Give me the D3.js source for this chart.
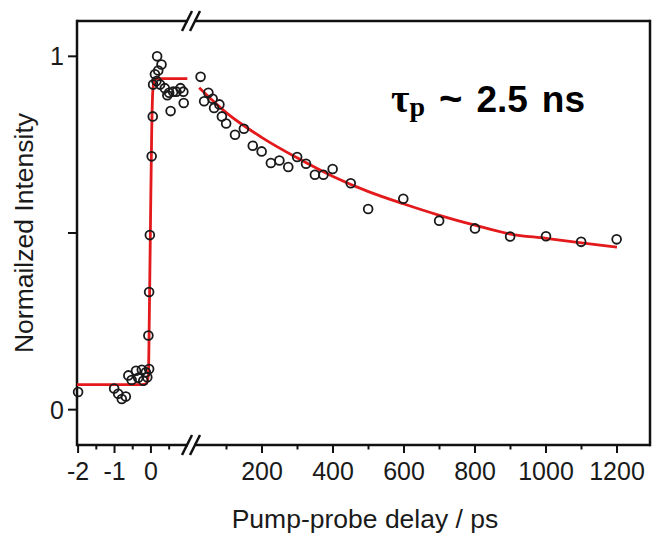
<!DOCTYPE html>
<html>
<head>
<meta charset="utf-8">
<script src="https://cdn.jsdelivr.net/npm/d3@7"></script>
<style>
  body { margin: 0; background: #fff; }
  text { font-family: "Liberation Sans", Arial, sans-serif; fill: #1a1a1a; }
</style>
</head>
<body>
<div id="chart"></div>
<script>
// early delays (ps), left part of the broken axis
const earlyDelay = [-2.0, -1.01, -0.9, -0.8, -0.69, -0.62, -0.53, -0.41, -0.35, -0.25, -0.21, -0.14, -0.1, -0.05,
  -0.07, -0.05, -0.03, 0.02, 0.05, 0.06, 0.11, 0.15, 0.17, 0.2, 0.29, 0.25, 0.38, 0.45, 0.5, 0.54, 0.61, 0.7, 0.81, 0.89, 0.9];
const earlySignal = [0.05, 0.06, 0.045, 0.03, 0.037, 0.097, 0.084, 0.11, 0.09, 0.113, 0.082, 0.106, 0.092, 0.115,
  0.21, 0.333, 0.494, 0.717, 0.83, 0.92, 0.949, 0.93, 1.0, 0.96, 0.977, 0.92, 0.91, 0.89, 0.897, 0.845, 0.9, 0.9, 0.91, 0.9, 0.868];

// late delays (ps), right part
const lateDelay = [27, 37, 49, 61, 65, 80, 87, 99, 124, 149, 174, 199, 225, 249, 274, 299, 324, 349, 373, 399,
  450, 499, 598, 699, 800, 899, 1000, 1099, 1199];
const lateSignal = [0.942, 0.873, 0.897, 0.88, 0.854, 0.864, 0.83, 0.81, 0.778, 0.795, 0.747, 0.731, 0.698, 0.705,
  0.687, 0.715, 0.696, 0.665, 0.665, 0.681, 0.641, 0.568, 0.597, 0.535, 0.513, 0.49, 0.491, 0.475, 0.482];

// fitted curves (red)
const fitEarlyDelay = [-2.03, -0.25, -0.12, -0.07, -0.04, -0.01, 0.02, 0.05, 0.09, 0.14, 1.0];
const fitEarlySignal = [0.071, 0.071, 0.074, 0.1, 0.3, 0.55, 0.78, 0.9, 0.93, 0.937, 0.937];
const fitLateDelay = [23, 100, 200, 300, 400, 500, 600, 700, 800, 900, 1000, 1100, 1200];
const fitLateSignal = [0.911, 0.84, 0.77, 0.712, 0.66, 0.617, 0.582, 0.55, 0.522, 0.497, 0.485, 0.472, 0.46];

// ticks
const earlyTicks = [-2, -1, 0];
const earlyMinor = [-1.5, -0.5, 0.5];
const lateTicks = [200, 400, 600, 800, 1000, 1200];
const lateMinor = [100, 300, 500, 700, 900, 1100];
const yTicks = [0, 1];
const yMinor = [0.5];

const width = 652, height = 536;
const margin = { top: 21, right: 2, bottom: 91, left: 77 };
const breakX = 191;

const svg = d3.select('#chart').append('svg')
  .attr('width', width)
  .attr('height', height);

const xEarly = d3.scaleLinear().domain([-2.03, 1.1]).range([margin.left, breakX]);
const xLate = d3.scaleLinear().domain([0, 1293]).range([breakX, width - margin.right]);
const y = d3.scaleLinear().domain([-0.1, 1.1]).range([height - margin.bottom, margin.top]);

const bottom = height - margin.bottom;
const right = width - margin.right;

// frame with axis break
const frame = svg.append('g').attr('stroke', '#111').attr('stroke-width', 2.5).attr('fill', 'none');
frame.append('line').attr('x1', margin.left).attr('x2', margin.left).attr('y1', margin.top - 1.2).attr('y2', bottom + 1.2);
frame.append('line').attr('x1', right).attr('x2', right).attr('y1', margin.top - 1.2).attr('y2', bottom + 1.2);
[margin.top, bottom].forEach(yy => {
  frame.append('line').attr('x1', margin.left).attr('x2', 188).attr('y1', yy).attr('y2', yy);
  frame.append('line').attr('x1', 194).attr('x2', right).attr('y1', yy).attr('y2', yy);
  [187, 195].forEach(cx => {
    frame.append('line')
      .attr('x1', cx - 5).attr('y1', yy + 10)
      .attr('x2', cx + 5).attr('y2', yy - 10);
  });
});

// x ticks
const ticks = svg.append('g').attr('stroke', '#111').attr('stroke-width', 2);
earlyTicks.forEach(t => ticks.append('line').attr('x1', xEarly(t)).attr('x2', xEarly(t)).attr('y1', bottom).attr('y2', bottom + 8));
earlyMinor.forEach(t => ticks.append('line').attr('x1', xEarly(t)).attr('x2', xEarly(t)).attr('y1', bottom).attr('y2', bottom + 4.5));
lateTicks.forEach(t => ticks.append('line').attr('x1', xLate(t)).attr('x2', xLate(t)).attr('y1', bottom).attr('y2', bottom + 8));
lateMinor.forEach(t => ticks.append('line').attr('x1', xLate(t)).attr('x2', xLate(t)).attr('y1', bottom).attr('y2', bottom + 4.5));
yTicks.concat(yMinor).forEach(v => ticks.append('line').attr('x1', margin.left - 9).attr('x2', margin.left).attr('y1', y(v)).attr('y2', y(v)));

const tickFont = 25;
svg.append('g').selectAll('text').data(earlyTicks).join('text')
  .attr('x', d => xEarly(d)).attr('y', bottom + 35)
  .attr('text-anchor', 'middle').attr('font-size', tickFont)
  .text(d => d);
svg.append('g').selectAll('text').data(lateTicks).join('text')
  .attr('x', d => xLate(d)).attr('y', bottom + 35)
  .attr('text-anchor', 'middle').attr('font-size', tickFont)
  .text(d => d);
svg.append('g').selectAll('text').data(yTicks).join('text')
  .attr('x', margin.left - 13).attr('y', d => y(d))
  .attr('dy', '0.36em')
  .attr('text-anchor', 'end').attr('font-size', tickFont)
  .text(d => d);

// axis titles
svg.append('text')
  .attr('x', 365).attr('y', 528)
  .attr('text-anchor', 'middle').attr('font-size', 26.5)
  .text('Pump-probe delay / ps');
svg.append('text')
  .attr('transform', `translate(33, 233) rotate(-90)`)
  .attr('text-anchor', 'middle').attr('font-size', 26.5)
  .text('Normailzed Intensity');

// fits
const red = '#e3191c';
const lineEarly = d3.line().x(d => xEarly(d[0])).y(d => y(d[1])).curve(d3.curveMonotoneX);
const lineLate = d3.line().x(d => xLate(d[0])).y(d => y(d[1])).curve(d3.curveMonotoneX);
svg.append('path')
  .datum(fitEarlyDelay.map((t, i) => [t, fitEarlySignal[i]]))
  .attr('d', lineEarly)
  .attr('fill', 'none').attr('stroke', red).attr('stroke-width', 2.8);
svg.append('path')
  .datum(fitLateDelay.map((t, i) => [t, fitLateSignal[i]]))
  .attr('d', lineLate)
  .attr('fill', 'none').attr('stroke', red).attr('stroke-width', 2.8);

// data points
const pts = svg.append('g').attr('fill', 'none').attr('stroke', '#1a1a1a').attr('stroke-width', 1.8);
pts.selectAll('.early').data(earlyDelay.map((t, i) => [t, earlySignal[i]])).join('circle')
  .attr('class', 'early')
  .attr('cx', d => xEarly(d[0])).attr('cy', d => y(d[1])).attr('r', 4.4);
pts.selectAll('.late').data(lateDelay.map((t, i) => [t, lateSignal[i]])).join('circle')
  .attr('class', 'late')
  .attr('cx', d => xLate(d[0])).attr('cy', d => y(d[1])).attr('r', 4.4);

// annotation
const ann = svg.append('text')
  .attr('x', 391).attr('y', 112)
  .attr('font-size', 37).attr('font-weight', 'bold')
  .style('fill', '#000');
ann.append('tspan').attr('font-family', '"Liberation Serif", serif').attr('font-size', 40).text('τ');
ann.append('tspan').attr('font-family', '"Liberation Serif", serif').attr('font-size', 28).attr('dy', 4).text('p');
ann.append('tspan').attr('dy', -4).attr('dx', 14).attr('font-size', 40).text('~');
ann.append('tspan').attr('dx', 14).text('2.5');
ann.append('tspan').attr('dx', 14).text('ns');
</script>
</body>
</html>
